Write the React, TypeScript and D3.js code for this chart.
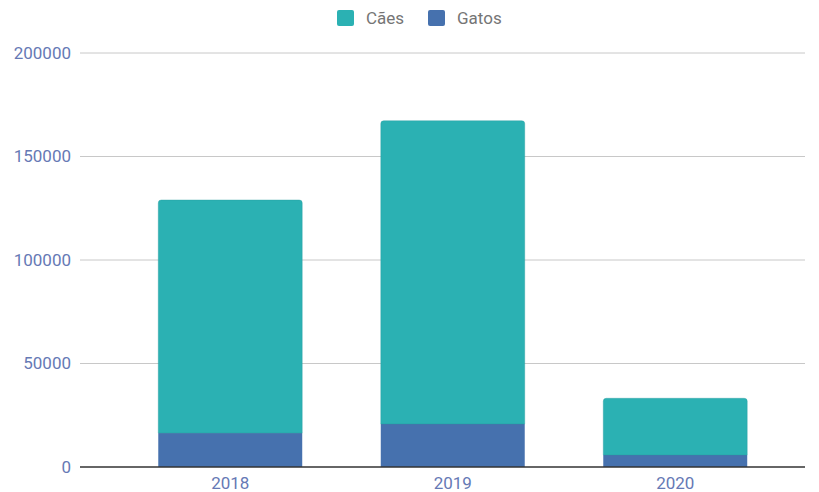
import React from "react";
import * as d3 from "d3";

const categories = ["2018", "2019", "2020"];
const gatos = [16400, 20800, 5800];
const caes = [112600, 146500, 27400];
const yTicks = [0, 50000, 100000, 150000, 200000];
const seriesNames = ["Cães", "Gatos"];
const seriesColors = ["#2bb1b3", "#4671ae"];

export default function App() {
  const W = 819, H = 492;
  const y = d3.scaleLinear().domain([0, 200000]).range([467, 53]);
  const x = d3.scaleBand<string>().domain(categories).range([119, 786.5]).paddingInner(0.353).paddingOuter(0.1765);
  const font = "Roboto, sans-serif";
  const r = 3;
  const topPath = (x0: number, x1: number, yt: number, yb: number) =>
    `M${x0},${yb}V${yt + r}Q${x0},${yt} ${x0 + r},${yt}H${x1 - r}Q${x1},${yt} ${x1},${yt + r}V${yb}Z`;
  return (
    <svg width={W} height={H} style={{ position: "absolute", left: 0, top: 0 }}>
      <rect width={W} height={H} fill="#fff" />
      {yTicks.map((t) => (
        <g key={t}>
          {t !== 0 && <line x1={80} x2={805} y1={y(t)} y2={y(t)} stroke="#c8c8c8" strokeWidth={1} />}
          <text x={71} y={y(t)} dy="0.35em" textAnchor="end" fontFamily={font} fontSize={17} fill="#6679b5">{t}</text>
        </g>
      ))}
      {categories.map((c, i) => {
        const x0 = x(c)!;
        const x1 = x0 + x.bandwidth();
        const g = gatos[i];
        const tot = g + caes[i];
        return (
          <g key={c}>
            <rect x={x0} y={y(g)} width={x.bandwidth()} height={y(0) - y(g)} fill={seriesColors[1]} />
            <path d={topPath(x0, x1, y(tot), y(g))} fill={seriesColors[0]} stroke="#249a9c" strokeWidth={0.6} strokeOpacity={0.6} />
            <text x={x0 + x.bandwidth() / 2} y={488.5} textAnchor="middle" fontFamily={font} fontSize={17} fill="#6679b5">{c}</text>
          </g>
        );
      })}
      <line x1={80} x2={805} y1={467} y2={467} stroke="#333" strokeWidth={1.5} />
      <g fontFamily={font} fontSize={17} fill="#757575">
        <rect x={337} y={10} width={17} height={16} rx={2} fill={seriesColors[0]} />
        <text x={366} y={24}>{seriesNames[0]}</text>
        <rect x={428} y={10} width={17} height={16} rx={2} fill={seriesColors[1]} />
        <text x={457} y={24}>{seriesNames[1]}</text>
      </g>
    </svg>
  );
}
